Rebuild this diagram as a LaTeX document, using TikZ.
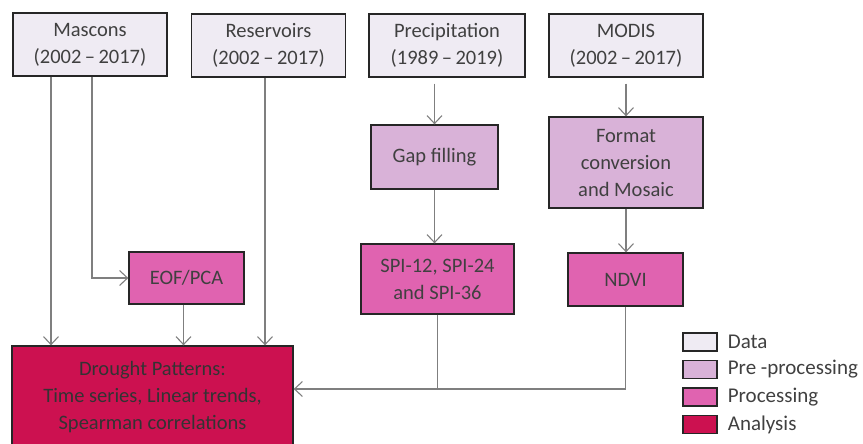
\documentclass[tikz,border=0pt]{standalone}
\usepackage{fontspec}
\setmainfont{Carlito}
\usetikzlibrary{arrows.meta,positioning}
\definecolor{datafill}{HTML}{EFEBF3}
\definecolor{prefill}{HTML}{D9B2D8}
\definecolor{procfill}{HTML}{E063B0}
\definecolor{anafill}{HTML}{CC1150}
\definecolor{txtgray}{HTML}{404040}
\definecolor{linegray}{HTML}{7F7F7F}
\begin{document}
\begin{tikzpicture}[x=1pt,y=-1pt]
\useasboundingbox (0,0) rectangle (863,444);
% define box types
\tikzstyle{box}=[draw=black!85, line width=1.3pt, rectangle, align=center,
    text=txtgray, inner sep=0pt, font=\fontsize{20.5}{27}\selectfont]
\tikzstyle{datastep}=[box, fill=datafill, minimum width=154pt, minimum height=63pt]
\tikzstyle{prestep}=[box, fill=prefill]
\tikzstyle{procstep}=[box, fill=procfill]
\tikzstyle{anastep}=[box, fill=anafill, text=black!80]
\tikzstyle{key}=[draw=black!85, line width=1.3pt, rectangle, minimum width=34pt, minimum height=18pt, inner sep=0pt]
\tikzstyle{keytext}=[text=txtgray, font=\fontsize{21}{24}\selectfont, inner sep=0pt]
\tikzstyle{l}=[linegray, line width=1.1pt]
\tikzstyle{a}=[l, -{Straight Barb[length=8pt,width=15pt,line width=1.1pt]}]
% data
\node[datastep] (mascons) at (90,44.5) {Mascons\\(2002\,--\,2017)};
\node[datastep] (reservoirs) at (268.5,45.5) {Reservoirs\\(2002\,--\,2017)};
\node[datastep, minimum width=156pt] (precip) at (447,45.5) {Precipitation\\(1989\,--\,2019)};
\node[datastep] (modis) at (626,45.5) {MODIS\\(2002\,--\,2017)};
% pre-processing
\node[prestep, minimum width=127pt, minimum height=64pt] (gap) at (434.5,157) {Gap filling};
\node[prestep, minimum width=154pt, minimum height=91pt] (format) at (626,162.5) {Format\\conversion\\and Mosaic};
% processing
\node[procstep, minimum width=153pt, minimum height=70pt] (spi) at (437.5,279) {SPI-12, SPI-24\\and SPI-36};
\node[procstep, minimum width=115pt, minimum height=53pt] (ndvi) at (625.5,279.5) {NDVI};
\node[procstep, minimum width=115pt, minimum height=52pt] (eof) at (186.5,278) {EOF/PCA};
% analysis
\node[anastep, minimum width=281pt, minimum height=102pt] (drought) at (152.5,397)
    {Drought Patterns:\\Time series, Linear trends,\\Spearman correlations};
% legend
\node[key, fill=datafill] (k1) at (700,342) {};
\node[key, fill=prefill] (k2) at (700,369.5) {};
\node[key, fill=procfill] (k3) at (700,397) {};
\node[key, fill=anafill] (k4) at (700,424.5) {};
\node[keytext, right=10pt of k1] (t1) {Data};
\node[keytext, right=10pt of k2] (t2) {Pre -processing};
\node[keytext, right=10pt of k3] (t3) {Processing};
\node[keytext, right=10pt of k4] (t4) {Analysis};
% connectors
\coordinate (join) at ([yshift=8pt]drought.east);
\draw[a] ([xshift=-39pt]mascons.south) -- ([xshift=-39pt]mascons.south |- drought.north);
\draw[a] ([xshift=2pt]mascons.south) |- (eof.west);
\draw[a] ([xshift=-3.5pt]reservoirs.south) -- ([xshift=-3.5pt]reservoirs.south |- drought.north);
\draw[a] ([xshift=-3pt]eof.south) -- ([xshift=-3pt]eof.south |- drought.north);
\draw[a] ([yshift=-6pt]precip.south -| gap.north) -- (gap.north);
\draw[a] (gap.south) -- (gap.south |- spi.north);
\draw[a] ([yshift=-6pt]modis.south) -- (format.north);
\draw[a] (format.south) -- (format.south |- ndvi.north);
\draw[l] (spi.south) -- (spi.south |- join);
\draw[a] (ndvi.south) |- (join);
\end{tikzpicture}
\end{document}
